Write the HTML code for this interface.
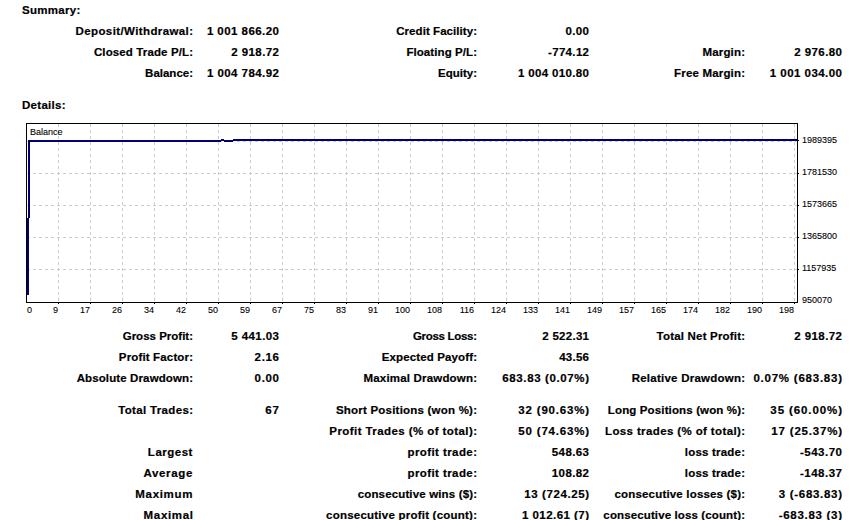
<!DOCTYPE html><html><head><meta charset="utf-8"><style>
html,body{margin:0;padding:0;background:#fff;width:854px;height:520px;overflow:hidden;position:relative}
.t{position:absolute;font-family:"Liberation Sans",sans-serif;font-weight:bold;font-size:11.5px;line-height:14px;white-space:nowrap;color:#000;-webkit-text-stroke:0.2px #000}
.r{text-align:right}
.a{position:absolute;font-family:"Liberation Sans",sans-serif;font-size:9px;line-height:12px;white-space:nowrap;color:#000;-webkit-text-stroke:0.1px #000}
svg{position:absolute;left:0;top:0}
</style></head><body>

<div class="t" style="top:3px;left:22px;letter-spacing:0.284px;">Summary:</div>
<div class="t" style="top:98px;left:22px;letter-spacing:0.288px;">Details:</div>
<div class="t r" style="top:24px;right:660.611px;letter-spacing:0.389px;">Deposit/Withdrawal:</div>
<div class="t r" style="top:24px;right:574.548px;letter-spacing:0.452px;">1 001 866.20</div>
<div class="t r" style="top:24px;right:376.936px;letter-spacing:0.064px;">Credit Facility:</div>
<div class="t r" style="top:24px;right:264.665px;letter-spacing:0.335px;">0.00</div>
<div class="t r" style="top:45px;right:660.879px;letter-spacing:0.121px;">Closed Trade P/L:</div>
<div class="t r" style="top:45px;right:574.573px;letter-spacing:0.427px;">2 918.72</div>
<div class="t r" style="top:45px;right:376.917px;letter-spacing:0.083px;">Floating P/L:</div>
<div class="t r" style="top:45px;right:264.667px;letter-spacing:0.333px;">-774.12</div>
<div class="t r" style="top:45px;right:108.834px;letter-spacing:0.166px;">Margin:</div>
<div class="t r" style="top:45px;right:11.571px;letter-spacing:0.429px;">2 976.80</div>
<div class="t r" style="top:66px;right:661.002px;letter-spacing:-0.002px;">Balance:</div>
<div class="t r" style="top:66px;right:574.549px;letter-spacing:0.451px;">1 004 784.92</div>
<div class="t r" style="top:66px;right:377.002px;letter-spacing:-0.002px;">Equity:</div>
<div class="t r" style="top:66px;right:264.639px;letter-spacing:0.361px;">1 004 010.80</div>
<div class="t r" style="top:66px;right:108.820px;letter-spacing:0.180px;">Free Margin:</div>
<div class="t r" style="top:66px;right:11.546px;letter-spacing:0.454px;">1 001 034.00</div>
<div class="t r" style="top:329px;right:660.997px;letter-spacing:0.003px;">Gross Profit:</div>
<div class="t r" style="top:329px;right:574.570px;letter-spacing:0.430px;">5 441.03</div>
<div class="t r" style="top:329px;right:377.300px;letter-spacing:-0.300px;">Gross Loss:</div>
<div class="t r" style="top:329px;right:264.713px;letter-spacing:0.287px;">2 522.31</div>
<div class="t r" style="top:329px;right:108.812px;letter-spacing:0.188px;">Total Net Profit:</div>
<div class="t r" style="top:329px;right:11.568px;letter-spacing:0.432px;">2 918.72</div>
<div class="t r" style="top:350px;right:660.848px;letter-spacing:0.152px;">Profit Factor:</div>
<div class="t r" style="top:350px;right:574.331px;letter-spacing:0.669px;">2.16</div>
<div class="t r" style="top:350px;right:376.867px;letter-spacing:0.133px;">Expected Payoff:</div>
<div class="t r" style="top:350px;right:264.750px;letter-spacing:0.250px;">43.56</div>
<div class="t r" style="top:371px;right:660.883px;letter-spacing:0.117px;">Absolute Drawdown:</div>
<div class="t r" style="top:371px;right:574.331px;letter-spacing:0.669px;">0.00</div>
<div class="t r" style="top:371px;right:376.812px;letter-spacing:0.188px;">Maximal Drawdown:</div>
<div class="t r" style="top:371px;right:264.382px;letter-spacing:0.618px;">683.83 (0.07%)</div>
<div class="t r" style="top:371px;right:108.762px;letter-spacing:0.238px;">Relative Drawdown:</div>
<div class="t r" style="top:371px;right:11.234px;letter-spacing:0.766px;">0.07% (683.83)</div>
<div class="t r" style="top:403px;right:660.664px;letter-spacing:0.336px;">Total Trades:</div>
<div class="t r" style="top:403px;right:574.000px;letter-spacing:1.000px;">67</div>
<div class="t r" style="top:403px;right:376.781px;letter-spacing:0.219px;">Short Positions (won %):</div>
<div class="t r" style="top:403px;right:264.200px;letter-spacing:0.800px;">32 (90.63%)</div>
<div class="t r" style="top:403px;right:108.863px;letter-spacing:0.137px;">Long Positions (won %):</div>
<div class="t r" style="top:403px;right:11.100px;letter-spacing:0.900px;">35 (60.00%)</div>
<div class="t r" style="top:424px;right:376.579px;letter-spacing:0.421px;">Profit Trades (% of total):</div>
<div class="t r" style="top:424px;right:264.200px;letter-spacing:0.800px;">50 (74.63%)</div>
<div class="t r" style="top:424px;right:108.624px;letter-spacing:0.376px;">Loss trades (% of total):</div>
<div class="t r" style="top:424px;right:11.200px;letter-spacing:0.800px;">17 (25.37%)</div>
<div class="t r" style="top:445px;right:661.100px;letter-spacing:0.500px;">Largest</div>
<div class="t r" style="top:445px;right:376.583px;letter-spacing:0.417px;">profit trade:</div>
<div class="t r" style="top:445px;right:264.600px;letter-spacing:0.400px;">548.63</div>
<div class="t r" style="top:445px;right:108.800px;letter-spacing:0.200px;">loss trade:</div>
<div class="t r" style="top:445px;right:11.499px;letter-spacing:0.501px;">-543.70</div>
<div class="t r" style="top:466px;right:660.932px;letter-spacing:0.668px;">Average</div>
<div class="t r" style="top:466px;right:376.583px;letter-spacing:0.417px;">profit trade:</div>
<div class="t r" style="top:466px;right:264.600px;letter-spacing:0.400px;">108.82</div>
<div class="t r" style="top:466px;right:108.800px;letter-spacing:0.200px;">loss trade:</div>
<div class="t r" style="top:466px;right:11.499px;letter-spacing:0.501px;">-148.37</div>
<div class="t r" style="top:487px;right:660.932px;letter-spacing:0.668px;">Maximum</div>
<div class="t r" style="top:487px;right:376.850px;letter-spacing:0.150px;">consecutive wins ($):</div>
<div class="t r" style="top:487px;right:264.400px;letter-spacing:0.600px;">13 (724.25)</div>
<div class="t r" style="top:487px;right:108.820px;letter-spacing:0.180px;">consecutive losses ($):</div>
<div class="t r" style="top:487px;right:11.300px;letter-spacing:0.700px;">3 (-683.83)</div>
<div class="t r" style="top:508px;right:660.332px;letter-spacing:0.668px;">Maximal</div>
<div class="t r" style="top:508px;right:376.771px;letter-spacing:0.229px;">consecutive profit (count):</div>
<div class="t r" style="top:508px;right:264.549px;letter-spacing:0.451px;">1 012.61 (7)</div>
<div class="t r" style="top:508px;right:108.876px;letter-spacing:0.124px;">consecutive loss (count):</div>
<div class="t r" style="top:508px;right:11.300px;letter-spacing:0.700px;">-683.83 (3)</div>
<svg width="854" height="520" viewBox="0 0 854 520" shape-rendering="crispEdges">
<line x1="58.5" y1="124" x2="58.5" y2="302" stroke="#cccccc" stroke-width="1" stroke-dasharray="3,3"/>
<line x1="90.5" y1="124" x2="90.5" y2="302" stroke="#cccccc" stroke-width="1" stroke-dasharray="3,3"/>
<line x1="122.5" y1="124" x2="122.5" y2="302" stroke="#cccccc" stroke-width="1" stroke-dasharray="3,3"/>
<line x1="154.5" y1="124" x2="154.5" y2="302" stroke="#cccccc" stroke-width="1" stroke-dasharray="3,3"/>
<line x1="186.5" y1="124" x2="186.5" y2="302" stroke="#cccccc" stroke-width="1" stroke-dasharray="3,3"/>
<line x1="218.5" y1="124" x2="218.5" y2="302" stroke="#cccccc" stroke-width="1" stroke-dasharray="3,3"/>
<line x1="250.5" y1="124" x2="250.5" y2="302" stroke="#cccccc" stroke-width="1" stroke-dasharray="3,3"/>
<line x1="282.5" y1="124" x2="282.5" y2="302" stroke="#cccccc" stroke-width="1" stroke-dasharray="3,3"/>
<line x1="314.5" y1="124" x2="314.5" y2="302" stroke="#cccccc" stroke-width="1" stroke-dasharray="3,3"/>
<line x1="346.5" y1="124" x2="346.5" y2="302" stroke="#cccccc" stroke-width="1" stroke-dasharray="3,3"/>
<line x1="378.5" y1="124" x2="378.5" y2="302" stroke="#cccccc" stroke-width="1" stroke-dasharray="3,3"/>
<line x1="410.5" y1="124" x2="410.5" y2="302" stroke="#cccccc" stroke-width="1" stroke-dasharray="3,3"/>
<line x1="442.5" y1="124" x2="442.5" y2="302" stroke="#cccccc" stroke-width="1" stroke-dasharray="3,3"/>
<line x1="474.5" y1="124" x2="474.5" y2="302" stroke="#cccccc" stroke-width="1" stroke-dasharray="3,3"/>
<line x1="506.5" y1="124" x2="506.5" y2="302" stroke="#cccccc" stroke-width="1" stroke-dasharray="3,3"/>
<line x1="538.5" y1="124" x2="538.5" y2="302" stroke="#cccccc" stroke-width="1" stroke-dasharray="3,3"/>
<line x1="570.5" y1="124" x2="570.5" y2="302" stroke="#cccccc" stroke-width="1" stroke-dasharray="3,3"/>
<line x1="602.5" y1="124" x2="602.5" y2="302" stroke="#cccccc" stroke-width="1" stroke-dasharray="3,3"/>
<line x1="634.5" y1="124" x2="634.5" y2="302" stroke="#cccccc" stroke-width="1" stroke-dasharray="3,3"/>
<line x1="666.5" y1="124" x2="666.5" y2="302" stroke="#cccccc" stroke-width="1" stroke-dasharray="3,3"/>
<line x1="698.5" y1="124" x2="698.5" y2="302" stroke="#cccccc" stroke-width="1" stroke-dasharray="3,3"/>
<line x1="730.5" y1="124" x2="730.5" y2="302" stroke="#cccccc" stroke-width="1" stroke-dasharray="3,3"/>
<line x1="762.5" y1="124" x2="762.5" y2="302" stroke="#cccccc" stroke-width="1" stroke-dasharray="3,3"/>
<line x1="794.5" y1="124" x2="794.5" y2="302" stroke="#cccccc" stroke-width="1" stroke-dasharray="3,3"/>
<line x1="27" y1="141.5" x2="797" y2="141.5" stroke="#cccccc" stroke-width="1" stroke-dasharray="3,3"/>
<line x1="27" y1="173.5" x2="797" y2="173.5" stroke="#cccccc" stroke-width="1" stroke-dasharray="3,3"/>
<line x1="27" y1="205.5" x2="797" y2="205.5" stroke="#cccccc" stroke-width="1" stroke-dasharray="3,3"/>
<line x1="27" y1="237.5" x2="797" y2="237.5" stroke="#cccccc" stroke-width="1" stroke-dasharray="3,3"/>
<line x1="27" y1="269.5" x2="797" y2="269.5" stroke="#cccccc" stroke-width="1" stroke-dasharray="3,3"/>
<rect x="26.5" y="123.5" width="771" height="179" fill="none" stroke="#000" stroke-width="1"/>
<rect x="58" y="303" width="1" height="1" fill="#000"/>
<rect x="90" y="303" width="1" height="1" fill="#000"/>
<rect x="122" y="303" width="1" height="1" fill="#000"/>
<rect x="154" y="303" width="1" height="1" fill="#000"/>
<rect x="186" y="303" width="1" height="1" fill="#000"/>
<rect x="218" y="303" width="1" height="1" fill="#000"/>
<rect x="250" y="303" width="1" height="1" fill="#000"/>
<rect x="282" y="303" width="1" height="1" fill="#000"/>
<rect x="314" y="303" width="1" height="1" fill="#000"/>
<rect x="346" y="303" width="1" height="1" fill="#000"/>
<rect x="378" y="303" width="1" height="1" fill="#000"/>
<rect x="410" y="303" width="1" height="1" fill="#000"/>
<rect x="442" y="303" width="1" height="1" fill="#000"/>
<rect x="474" y="303" width="1" height="1" fill="#000"/>
<rect x="506" y="303" width="1" height="1" fill="#000"/>
<rect x="538" y="303" width="1" height="1" fill="#000"/>
<rect x="570" y="303" width="1" height="1" fill="#000"/>
<rect x="602" y="303" width="1" height="1" fill="#000"/>
<rect x="634" y="303" width="1" height="1" fill="#000"/>
<rect x="666" y="303" width="1" height="1" fill="#000"/>
<rect x="698" y="303" width="1" height="1" fill="#000"/>
<rect x="730" y="303" width="1" height="1" fill="#000"/>
<rect x="762" y="303" width="1" height="1" fill="#000"/>
<rect x="794" y="303" width="1" height="1" fill="#000"/>
<rect x="798" y="140" width="1" height="1" fill="#000"/>
<rect x="798" y="173" width="1" height="1" fill="#000"/>
<rect x="798" y="205" width="1" height="1" fill="#000"/>
<rect x="798" y="237" width="1" height="1" fill="#000"/>
<rect x="798" y="269" width="1" height="1" fill="#000"/>
<rect x="27" y="218" width="2" height="77" fill="#000070"/>
<rect x="28" y="140" width="2" height="78" fill="#000070"/>
<rect x="28" y="140" width="193" height="2" fill="#000070"/>
<rect x="221" y="139" width="3" height="2" fill="#000070"/>
<rect x="224" y="140" width="9" height="2" fill="#000070"/>
<rect x="233" y="139" width="564" height="2" fill="#000070"/>
</svg>
<div class="a" style="left:30px;top:126px;font-size:9px">Balance</div>
<div class="a" style="left:27px;top:304px">0</div>
<div class="a" style="right:796px;top:304px;text-align:right">9</div>
<div class="a" style="right:764px;top:304px;text-align:right">17</div>
<div class="a" style="right:732px;top:304px;text-align:right">26</div>
<div class="a" style="right:700px;top:304px;text-align:right">34</div>
<div class="a" style="right:668px;top:304px;text-align:right">42</div>
<div class="a" style="right:636px;top:304px;text-align:right">50</div>
<div class="a" style="right:604px;top:304px;text-align:right">59</div>
<div class="a" style="right:572px;top:304px;text-align:right">67</div>
<div class="a" style="right:540px;top:304px;text-align:right">75</div>
<div class="a" style="right:508px;top:304px;text-align:right">83</div>
<div class="a" style="right:476px;top:304px;text-align:right">91</div>
<div class="a" style="right:444px;top:304px;text-align:right">100</div>
<div class="a" style="right:412px;top:304px;text-align:right">108</div>
<div class="a" style="right:380px;top:304px;text-align:right">116</div>
<div class="a" style="right:348px;top:304px;text-align:right">124</div>
<div class="a" style="right:316px;top:304px;text-align:right">133</div>
<div class="a" style="right:284px;top:304px;text-align:right">141</div>
<div class="a" style="right:252px;top:304px;text-align:right">149</div>
<div class="a" style="right:220px;top:304px;text-align:right">157</div>
<div class="a" style="right:188px;top:304px;text-align:right">165</div>
<div class="a" style="right:156px;top:304px;text-align:right">174</div>
<div class="a" style="right:124px;top:304px;text-align:right">182</div>
<div class="a" style="right:92px;top:304px;text-align:right">190</div>
<div class="a" style="right:60px;top:304px;text-align:right">198</div>
<div class="a" style="left:802px;top:134px">1989395</div>
<div class="a" style="left:802px;top:166px">1781530</div>
<div class="a" style="left:802px;top:198px">1573665</div>
<div class="a" style="left:802px;top:230px">1365800</div>
<div class="a" style="left:802px;top:262px">1157935</div>
<div class="a" style="left:802px;top:294px">950070</div>
</body></html>
